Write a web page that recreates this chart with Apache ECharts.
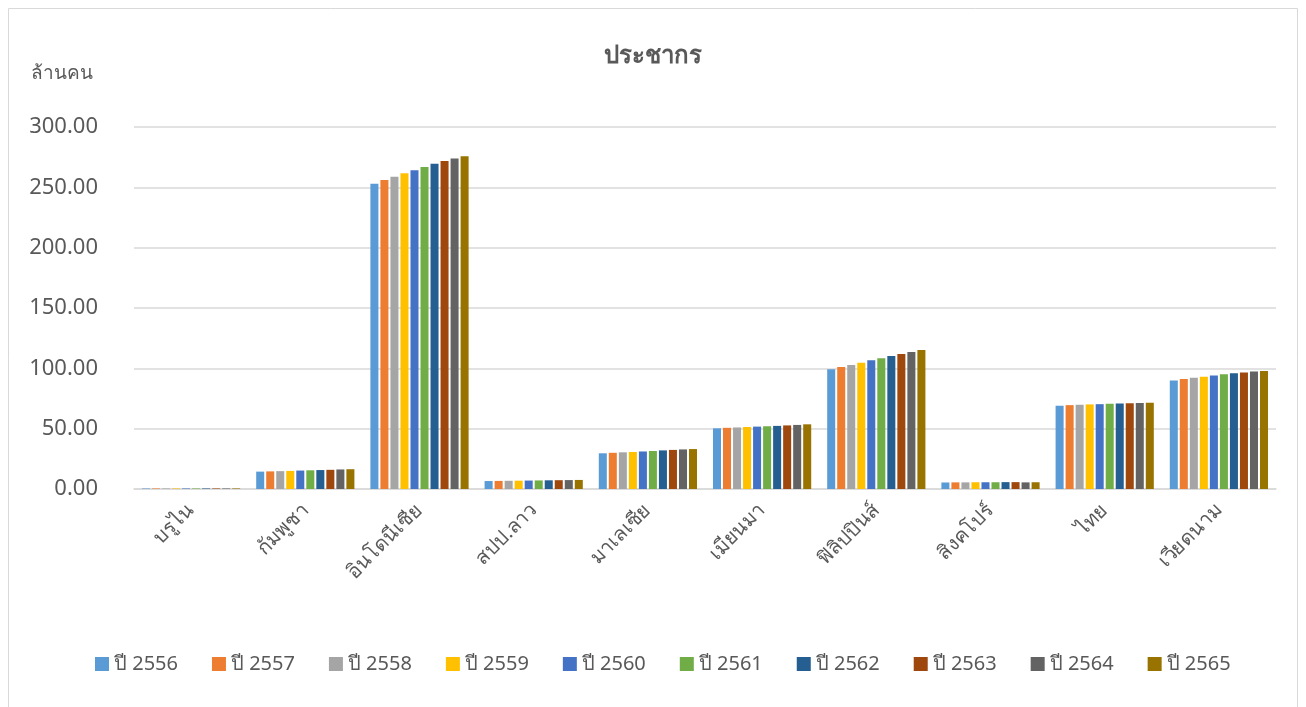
<!DOCTYPE html>
<html>
<head>
<meta charset="utf-8">
<script src="https://cdn.jsdelivr.net/npm/echarts@6/dist/echarts.min.js"></script>
<style>
  html, body { margin: 0; padding: 0; background: #fff; }
  #main { width: 1306px; height: 707px; }
</style>
</head>
<body>
<div id="main"></div>
<script>
// ประเทศ
const countries = ['บรูไน', 'กัมพูชา', 'อินโดนีเซีย', 'สปป.ลาว', 'มาเลเซีย', 'เมียนมา', 'ฟิลิปปินส์', 'สิงคโปร์', 'ไทย', 'เวียดนาม'];
const years = ['ปี 2556', 'ปี 2557', 'ปี 2558', 'ปี 2559', 'ปี 2560', 'ปี 2561', 'ปี 2562', 'ปี 2563', 'ปี 2564', 'ปี 2565'];

// ล้านคน ต่อประเทศ (เรียงตามปี)
const brunei    = [0.41, 0.42, 0.42, 0.42, 0.43, 0.43, 0.44, 0.44, 0.44, 0.45];
const cambodia  = [14.4, 14.6, 14.8, 15.0, 15.3, 15.5, 15.7, 15.9, 16.2, 16.4];
const indonesia = [253.0, 256.0, 258.7, 261.6, 264.2, 266.9, 269.6, 271.9, 273.8, 275.8];
const laos      = [6.6, 6.7, 6.8, 6.9, 7.0, 7.1, 7.2, 7.3, 7.4, 7.5];
const malaysia  = [29.6, 30.0, 30.4, 30.7, 31.1, 31.5, 32.0, 32.4, 32.8, 33.1];
const myanmar   = [50.3, 50.7, 51.0, 51.4, 51.7, 52.0, 52.3, 52.7, 53.1, 53.6];
const philippines = [99.2, 101.1, 102.7, 104.6, 106.6, 108.3, 110.2, 111.8, 113.5, 115.2];
const singapore = [5.4, 5.5, 5.5, 5.6, 5.6, 5.6, 5.7, 5.7, 5.5, 5.6];
const thailand  = [69.0, 69.5, 69.8, 70.1, 70.3, 70.6, 70.9, 71.1, 71.3, 71.5];
const vietnam   = [90.0, 91.1, 92.2, 93.1, 94.1, 95.0, 96.0, 96.6, 97.3, 97.8];

const byCountry = [brunei, cambodia, indonesia, laos, malaysia, myanmar, philippines, singapore, thailand, vietnam];

// สีแบบ Excel
const colors = ['#5B9BD5', '#ED7D31', '#A5A5A5', '#FFC000', '#4472C4', '#70AD47', '#255E91', '#9E480E', '#636363', '#997300'];

const textColor = '#595959';
const font = 'Tahoma, "Noto Sans", sans-serif';

const chart = echarts.init(document.getElementById('main'));

const series = years.map((y, i) => ({
  name: y,
  type: 'bar',
  data: byCountry.map(c => c[i]),
  barGap: '25%',
  barCategoryGap: '14%'
}));

chart.setOption({
  color: colors,
  backgroundColor: '#fff',
  textStyle: { fontFamily: font },
  title: [
    {
      text: 'ประชากร',
      left: 'center',
      top: 39,
      textStyle: { fontSize: 24, fontWeight: 'bold', color: textColor, fontFamily: font }
    },
    {
      text: 'ล้านคน',
      left: 26,
      top: 59,
      textStyle: { fontSize: 19, fontWeight: 'normal', color: textColor, fontFamily: font }
    }
  ],
  graphic: [{
    type: 'rect',
    shape: { x: 8.5, y: 8.5, width: 1289, height: 710 },
    style: { fill: 'none', stroke: '#d9d9d9', lineWidth: 1 },
    silent: true
  }],
  legend: {
    bottom: 28,
    left: 90,
    itemWidth: 14,
    itemHeight: 14,
    itemGap: 34,
    icon: 'rect',
    textStyle: { fontSize: 20, color: textColor, fontFamily: font }
  },
  grid: { left: 134, right: 30, top: 127, bottom: 218 },
  xAxis: {
    type: 'category',
    data: countries,
    axisLine: { lineStyle: { color: '#d9d9d9', width: 1.5 } },
    axisTick: { show: false },
    axisLabel: { rotate: 45, fontSize: 20, color: textColor, margin: 18, fontFamily: font }
  },
  yAxis: {
    type: 'value',
    min: 0,
    max: 300,
    interval: 50,
    axisLine: { show: false },
    axisTick: { show: false },
    splitLine: { lineStyle: { color: '#d9d9d9', width: 1.5 } },
    axisLabel: {
      fontSize: 22, color: textColor, margin: 36, fontFamily: font,
      formatter: v => v.toFixed(2)
    }
  },
  series: series
});
</script>
</body>
</html>
